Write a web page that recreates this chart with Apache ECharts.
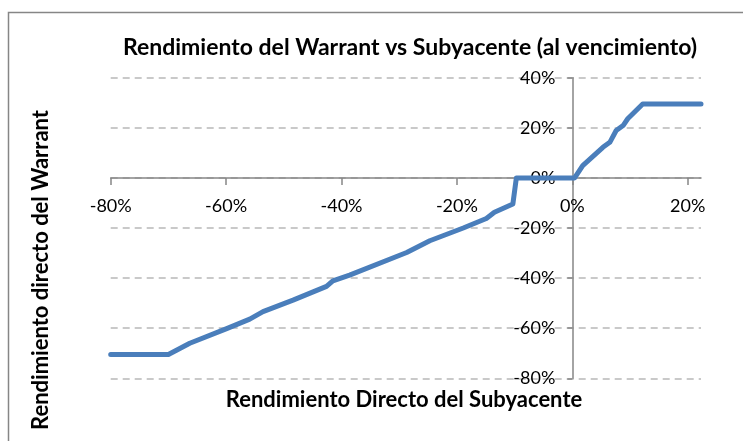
<!DOCTYPE html>
<html>
<head>
<meta charset="utf-8">
<script src="https://cdn.jsdelivr.net/npm/echarts@6/dist/echarts.min.js"></script>
<style>
html,body{margin:0;padding:0;background:#fff;}
#chart{width:743px;height:441px;}
</style>
</head>
<body>
<div id="chart"></div>
<script>
// Subyacente return (x) and warrant return (y), in %
const xValues = [-80, -70.0, -66.3, -59.9, -55.9, -53.6, -48.4, -42.6, -41.5, -38.6, -28.7, -24.7, -18.9, -14.9, -13.5, -10.3, -9.7, -8.8, 0.4, 1.8, 5.3, 6.5, 7.6, 8.8, 9.6, 12.2, 22.3];
const yValues = [-70.5, -70.5, -66.0, -60.2, -56.4, -53.4, -48.8, -43.3, -41.1, -38.8, -29.8, -25.1, -20.0, -16.2, -13.7, -10.4, 0, 0, 0, 4.9, 12.2, 14.2, 18.9, 20.9, 23.6, 29.5, 29.5];
const xTicks = [-80, -60, -40, -20, 0, 20];
const yTicks = [-80, -60, -40, -20, 0, 20, 40];

const chartTitle = 'Rendimiento del Warrant vs Subyacente (al vencimiento)';
const xName = 'Rendimiento Directo del Subyacente';
const yName = 'Rendimiento directo del Warrant';

const font = 'Lato, "Liberation Sans", sans-serif';
const chart = echarts.init(document.getElementById('chart'), null, {renderer: 'canvas'});
const seriesData = xValues.map((x, i) => [x, yValues[i]]);

const gridTop = 77.7, gridBottomPx = 378.3, gridLeft = 110.7, gridRightPx = 701;
const xMin = -80, xMax = 22.3, yMin = -80, yMax = 40;
// place axes through origin (value 0) by offsetting from the grid edge
const xAxisOffset = -(0 - yMin) / (yMax - yMin) * (gridBottomPx - gridTop);
const yAxisOffset = -(0 - xMin) / (xMax - xMin) * (gridRightPx - gridLeft);

chart.setOption({
  animation: false,
  backgroundColor: '#ffffff',
  title: {
    text: chartTitle,
    left: 405, top: 31, textAlign: 'center',
    textStyle: {fontFamily: font, fontWeight: 'bold', fontSize: 23, color: '#000'}
  },
  graphic: [
    {type: 'rect', shape: {x: 8.5, y: 12.5, width: 800, height: 500}, style: {fill: 'none', stroke: '#868686', lineWidth: 1.5}, z: 0},
    {type: 'text', x: 404, y: 400, style: {text: xName, textAlign: 'center', textVerticalAlign: 'middle', font: 'bold 22px ' + font, fill: '#000'}},
    {type: 'text', x: 41, y: 270, rotation: Math.PI / 2, style: {text: yName, textAlign: 'center', textVerticalAlign: 'middle', font: 'bold 22px ' + font, fill: '#000'}}
  ],
  grid: {left: gridLeft, right: 743 - gridRightPx, top: gridTop, bottom: 441 - gridBottomPx, containLabel: false},
  xAxis: {
    type: 'value', min: xMin, max: xMax, interval: 20,
    position: 'bottom', offset: xAxisOffset,
    axisLine: {onZero: false, lineStyle: {color: '#868686', width: 1.5}},
    axisTick: {show: true, inside: false, length: 7, lineStyle: {color: '#868686', width: 1.5},
      customValues: xTicks},
    axisLabel: {margin: 19, fontFamily: font, fontSize: 18, color: '#000',
      customValues: xTicks,
      formatter: v => v + '%'},
    splitLine: {show: false}
  },
  yAxis: {
    type: 'value', min: yMin, max: yMax, interval: 20,
    position: 'left', offset: yAxisOffset,
    axisLine: {onZero: false, lineStyle: {color: '#868686', width: 1.5}},
    axisTick: {show: true, inside: false, length: 5, lineStyle: {color: '#868686', width: 1.5}},
    axisLabel: {margin: 17, fontFamily: font, fontSize: 18, color: '#000',
      formatter: v => v + '%'},
    splitLine: {show: true, lineStyle: {color: '#b8b8b8', width: 1.5, type: [7, 5]}}
  },
  series: [{
    type: 'line',
    data: seriesData,
    showSymbol: false,
    symbol: 'none',
    lineStyle: {color: '#4a7ebb', width: 5, cap: 'round', join: 'round'},
    z: 5
  }]
});
</script>
</body>
</html>
